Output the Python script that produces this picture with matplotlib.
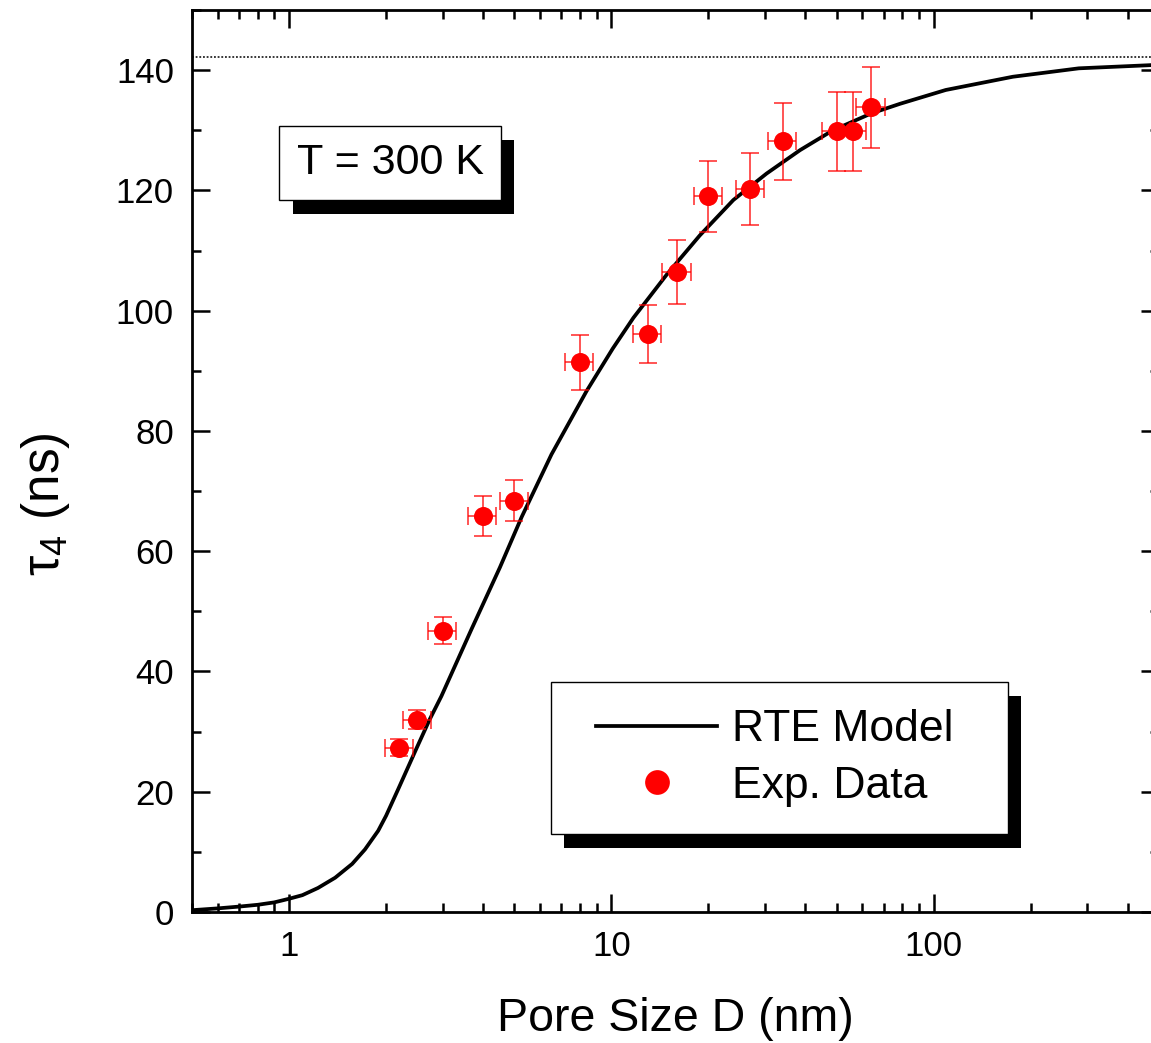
import matplotlib
matplotlib.use("Agg")
import matplotlib.pyplot as plt
import matplotlib.patheffects as pe
from matplotlib.legend_handler import HandlerLine2D
from matplotlib.ticker import LogLocator, FixedLocator, MultipleLocator, NullFormatter

plt.rcParams['font.family'] = ['Liberation Sans', 'DejaVu Sans']
plt.rcParams['mathtext.default'] = 'regular'

# RTE model curve: pore size D (nm) vs lifetime tau_4 (ns)
model_D = [0.5, 0.6, 0.7, 0.8, 0.9, 1.0, 1.1, 1.23, 1.39, 1.57, 1.72, 1.89, 2.0,
           2.18, 2.49, 2.73, 2.97, 3.68, 4.51, 5.27, 6.52, 8.37, 10.1, 11.7, 14.9,
           18.8, 23.9, 30.3, 38.5, 48.7, 64.0, 78.6, 109.0, 176.0, 282.0, 458.0, 500.0]
model_tau = [0.3, 0.6, 0.9, 1.2, 1.6, 2.2, 2.8, 4.0, 5.7, 8.0, 10.4, 13.5, 16.0,
             20.4, 27.3, 32.0, 35.9, 47.0, 57.3, 65.7, 76.1, 86.6, 93.7, 98.8, 106.1,
             112.5, 118.4, 122.8, 126.7, 130.0, 132.8, 134.4, 136.7, 138.9, 140.3, 140.8, 140.9]

# Experimental data with uncertainties
exp_D = [2.2, 2.5, 3.0, 4.0, 5.0, 8.0, 13.0, 16.0, 20.0, 27.0, 34.0, 50.0, 56.0, 64.0]
exp_tau = [27.3, 32.0, 46.8, 65.8, 68.4, 91.4, 96.1, 106.4, 119.0, 120.2, 128.2, 129.8, 129.8, 133.8]
exp_D_err = [0.22, 0.25, 0.30, 0.40, 0.50, 0.80, 1.3, 1.6, 2.0, 2.7, 3.4, 5.0, 5.6, 6.4]
exp_tau_err = [1.4, 1.6, 2.3, 3.3, 3.4, 4.6, 4.8, 5.3, 5.9, 6.0, 6.4, 6.5, 6.5, 6.7]

# Bulk limit
tau_bulk = 142.2

x_major = [1, 10, 100]
x_major_labels = ['1', '10', '100']

W, H = 1151, 1043
fig = plt.figure(figsize=(W / 100, H / 100), dpi=100)
left, right, top, bottom = 192, 1159, 10, 912
ax = fig.add_axes([left / W, (H - bottom) / H, (right - left) / W, (bottom - top) / H])

ax.axhline(tau_bulk, color='black', lw=1.1, ls=(0, (1.2, 1.2)), zorder=1)

model_line, = ax.plot(model_D, model_tau, color='black', lw=2.7, label='RTE Model',
                      zorder=3, solid_joinstyle='round')

ax.errorbar(exp_D, exp_tau, xerr=exp_D_err, yerr=exp_tau_err, fmt='none',
            ecolor=(1, 0, 0, 0.85), elinewidth=1.1, capsize=6.5, capthick=1.1, zorder=4)
exp_pts, = ax.plot(exp_D, exp_tau, 'o', color='red', ms=13.7, mec='none',
                   label='Exp. Data', zorder=5)

ax.set_xscale('log')
ax.set_xlim(0.5, 500)
ax.set_ylim(0, 150)

ax.xaxis.set_major_locator(FixedLocator(x_major))
ax.set_xticklabels(x_major_labels)
ax.xaxis.set_minor_locator(LogLocator(base=10, subs=range(2, 10), numticks=20))
ax.xaxis.set_minor_formatter(NullFormatter())
ax.yaxis.set_major_locator(MultipleLocator(20))
ax.yaxis.set_minor_locator(MultipleLocator(10))

for s in ax.spines.values():
    s.set_linewidth(2.0)

ax.tick_params(which='both', direction='in', top=True, right=True, width=1.8)
ax.tick_params(which='major', length=13, labelsize=25)
ax.tick_params(which='minor', length=6.5)
ax.tick_params(axis='x', which='major', pad=13)
ax.tick_params(axis='y', which='major', pad=13)

ax.set_xlabel('Pore Size D (nm)', fontsize=33.5)
ax.set_ylabel(r'τ$_{4}$ (ns)', fontsize=37)
ax.xaxis.set_label_coords(0.5, -0.094)
ax.yaxis.set_label_coords(-0.124, 0.452)

shadow = [pe.SimplePatchShadow(offset=(9.5, -10), shadow_rgbFace='black', alpha=1.0),
          pe.Normal()]

t = ax.text(0.2048, 0.8304, 'T = 300 K', transform=ax.transAxes, fontsize=31,
            ha='center', va='center', zorder=6,
            bbox=dict(boxstyle='square,pad=0.4', facecolor='white', edgecolor='black', lw=1.0))
t.get_bbox_patch().set_path_effects(shadow)

handler = HandlerLine2D(xpad=0.405)
leg = ax.legend(handles=[model_line, exp_pts], loc='lower left',
                bbox_to_anchor=(0.3712, 0.0865, 0.4726, 0.1), mode='expand',
                borderaxespad=0, fontsize=32, frameon=True, fancybox=False,
                framealpha=1, edgecolor='black', handlelength=3.13,
                handletextpad=0.34, borderpad=0.61, labelspacing=0.35,
                markerscale=1.3,
                handler_map={model_line: handler, exp_pts: handler})
leg.get_frame().set_linewidth(1.0)
leg.get_frame().set_path_effects(shadow)
leg.set_zorder(6)

fig.savefig('out.png', dpi=100)
